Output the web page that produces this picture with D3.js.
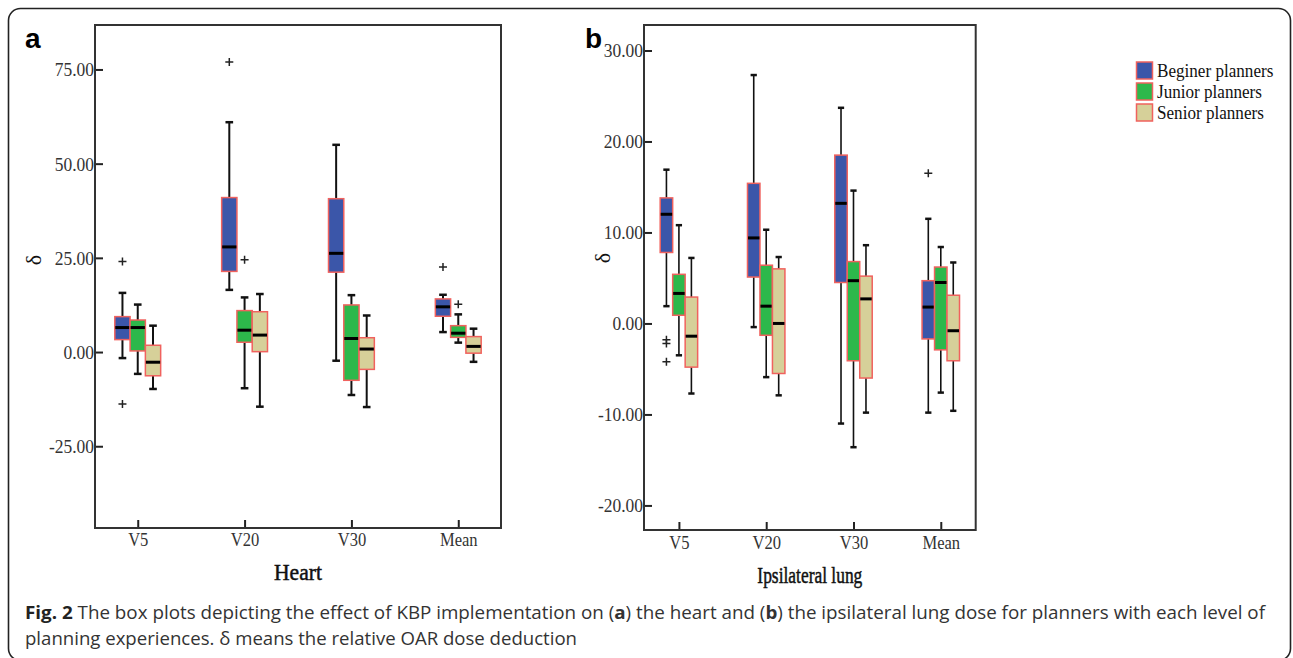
<!DOCTYPE html>
<html><head><meta charset="utf-8">
<script src="https://cdn.jsdelivr.net/npm/d3@7"></script>
<style>html,body{margin:0;padding:0;background:#fff;}svg{display:block;}</style>
</head><body>
<svg id="chart" width="1293" height="658"></svg>
<script>
// ---------- data ----------
const categories = ["V5", "V20", "V30", "Mean"];
const groupNames = ["Beginer planners", "Junior planners", "Senior planners"];
const groupColors = ["#3b56a9", "#2db84b", "#d6d099"];

const heartTicks = [-25, 0, 25, 50, 75];
const lungTicks = [-20, -10, 0, 10, 20, 30];

// five-number summaries per category: [lowWhisker, q1, median, q3, highWhisker]
const heartBeginer = [[-1.6, 3.3, 6.5, 9.4, 15.7], [16.5, 21.4, 27.9, 41.0, 61.0], [-2.3, 21.2, 26.2, 40.7, 55.0], [5.3, 9.5, 12.0, 14.1, 15.2]];
const heartJunior  = [[-5.8, 0.3, 6.5, 8.5, 12.6], [-9.6, 2.6, 5.8, 11.0, 14.5], [-11.4, -7.5, 3.6, 12.5, 15.1], [2.5, 3.9, 5.0, 7.0, 10.0]];
const heartSenior  = [[-9.8, -6.3, -2.7, 1.8, 7.0], [-14.5, 0.1, 4.5, 10.7, 15.4], [-14.6, -4.6, 0.8, 3.8, 9.7], [-2.6, -0.3, 1.5, 4.1, 6.2]];
// outliers: [groupIndex, category, value]
const heartOutliers = [[0, "V5", 24.0], [0, "V5", -13.8], [0, "V20", 77.0], [1, "V20", 24.5], [0, "Mean", 22.6], [1, "Mean", 12.7]];

const lungBeginer = [[1.9, 7.8, 12.0, 13.8, 16.9], [-0.4, 5.1, 9.4, 15.4, 27.3], [-11.0, 4.5, 13.2, 18.5, 23.7], [-9.8, -1.7, 1.8, 4.7, 11.5]];
const lungJunior  = [[-3.5, 0.9, 3.3, 5.4, 10.8], [-5.9, -1.3, 1.9, 6.4, 10.3], [-13.6, -4.1, 4.7, 6.8, 14.6], [-7.6, -2.9, 4.5, 6.2, 8.4]];
const lungSenior  = [[-7.7, -4.8, -1.4, 2.9, 7.2], [-7.9, -5.5, 0.0, 6.0, 7.3], [-9.8, -6.0, 2.7, 5.2, 8.6], [-9.6, -4.1, -0.8, 3.1, 6.7]];
const lungOutliers = [[0, "V5", -1.8], [0, "V5", -2.2], [0, "V5", -4.2], [0, "Mean", 16.5]];

const captionLine1 = ["Fig. 2", " The box plots depicting the effect of KBP implementation on (", "a", ") the heart and (", "b", ") the ipsilateral lung dose for planners with each level of"];
const captionLine2 = "planning experiences. δ means the relative OAR dose deduction";

// ---------- drawing ----------
const svg = d3.select("#chart");
svg.append("rect").attr("width", 1293).attr("height", 658).attr("fill", "#fff");
svg.append("rect").attr("x", 8.5).attr("y", 8.5).attr("width", 1282).attr("height", 652)
  .attr("rx", 12).attr("fill", "none").attr("stroke", "#222").attr("stroke-width", 1.6);

const serif = "'Liberation Serif','Times New Roman',serif";
const fmt = v => v.toFixed(2);
function condense(sel, k) {
  sel.each(function () {
    const len = this.getComputedTextLength();
    d3.select(this).attr("textLength", len * k).attr("lengthAdjust", "spacingAndGlyphs");
  });
}

function drawPanel(p) {
  const g = svg.append("g");
  const x = d3.scalePoint().domain(categories).range([p.left, p.right]).padding(0.4);
  const y = d3.scaleLinear().domain(p.domain).range([p.bottom, p.top]);
  const bw = x.step() * 0.143;
  const capW = bw * 0.5;
  const cx = (gi, cat) => x(cat) + (gi - 1) * bw;

  // y axis
  const ya = g.append("g").attr("transform", `translate(${p.left},0)`)
    .call(d3.axisLeft(y).tickValues(p.ticks).tickFormat(fmt).tickSizeInner(-8).tickSizeOuter(0).tickPadding(1));
  ya.select(".domain").remove();
  ya.selectAll("line").attr("stroke", "#222").attr("stroke-width", 2);
  ya.selectAll("text").attr("font-family", serif).attr("font-size", 18).attr("fill", "#333").attr("dy", "0.36em");
  condense(ya.selectAll("text"), 0.97);

  // x axis
  const xa = g.append("g").attr("transform", `translate(0,${p.bottom})`)
    .call(d3.axisBottom(x).tickSizeInner(-8).tickSizeOuter(0).tickPadding(p.xPad));
  xa.select(".domain").remove();
  xa.selectAll("line").attr("stroke", "#222").attr("stroke-width", 2);
  xa.selectAll("text").attr("font-family", serif).attr("font-size", 18).attr("fill", "#333");
  condense(xa.selectAll("text"), 0.92);

  // boxes
  p.series.forEach((arr, gi) => {
    arr.forEach((s, ci) => {
      const cat = categories[ci];
      const c = cx(gi, cat);
      const [lo, q1, md, q3, hi] = s;
      g.append("line").attr("x1", c).attr("x2", c).attr("y1", y(hi)).attr("y2", y(lo))
        .attr("stroke", "#111").attr("stroke-width", p.whiskerW);
      [lo, hi].forEach(v => g.append("line").attr("x1", c - capW / 2).attr("x2", c + capW / 2)
        .attr("y1", y(v)).attr("y2", y(v)).attr("stroke", "#111").attr("stroke-width", 2.5));
      g.append("rect").attr("x", c - bw / 2).attr("y", y(q3)).attr("width", bw).attr("height", y(q1) - y(q3))
        .attr("fill", groupColors[gi]).attr("stroke", "#f0625e").attr("stroke-width", 1.5);
      g.append("line").attr("x1", c - bw / 2 + 0.5).attr("x2", c + bw / 2 - 0.5).attr("y1", y(md)).attr("y2", y(md))
        .attr("stroke", "#000").attr("stroke-width", 3);
    });
  });

  // outliers
  p.outliers.forEach(([gi, cat, v]) => {
    const c = cx(gi, cat), yy = y(v), s = 4;
    g.append("path").attr("d", `M${c - s},${yy}H${c + s}M${c},${yy - s}V${yy + s}`)
      .attr("stroke", "#222").attr("stroke-width", 1.5).attr("fill", "none");
  });

  // plot frame
  g.append("rect").attr("x", p.left).attr("y", p.top).attr("width", p.right - p.left).attr("height", p.bottom - p.top)
    .attr("fill", "none").attr("stroke", "#333").attr("stroke-width", 2);

  // titles
  g.append("text").attr("x", (p.left + p.right) / 2).attr("y", p.titleY).attr("text-anchor", "middle")
    .attr("font-family", serif).attr("font-size", 23).attr("fill", "#111").attr("stroke", "#111").attr("stroke-width", 0.5)
    .attr("textLength", p.titleLen).attr("lengthAdjust", "spacingAndGlyphs").text(p.title);
  g.append("text").attr("transform", `translate(${p.deltaX},${p.deltaY}) rotate(-90)`).attr("text-anchor", "middle")
    .attr("dy", "0.35em").attr("font-family", serif).attr("font-size", 22).attr("fill", "#111").text("δ");
  g.append("text").attr("x", p.labelX).attr("y", 48).attr("font-family", "'Liberation Sans',Arial,sans-serif")
    .attr("font-weight", "bold").attr("font-size", 28).attr("fill", "#000").text(p.label);
}

drawPanel({
  left: 95, right: 501, top: 25, bottom: 528, domain: [-46.7, 86.8], ticks: heartTicks,
  series: [heartBeginer, heartJunior, heartSenior], outliers: heartOutliers, xPad: 5, whiskerW: 2,
  title: "Heart", titleY: 580, titleLen: 48, deltaX: 33, deltaY: 260, label: "a", labelX: 25
});
drawPanel({
  left: 644, right: 975.7, top: 25, bottom: 530, domain: [-22.7, 32.8], ticks: lungTicks,
  series: [lungBeginer, lungJunior, lungSenior], outliers: lungOutliers, xPad: 6, whiskerW: 1.6,
  title: "Ipsilateral lung", titleY: 583, titleLen: 105, deltaX: 602, deltaY: 258, label: "b", labelX: 585
});

// legend
const leg = svg.append("g");
groupNames.forEach((n, i) => {
  leg.append("rect").attr("x", 1136.5).attr("y", 62 + i * 21).attr("width", 16).attr("height", 17)
    .attr("fill", groupColors[i]).attr("stroke", "#f0625e").attr("stroke-width", 1.5);
  leg.append("text").attr("x", 1157).attr("y", 77 + i * 21).attr("font-family", serif).attr("font-size", 18)
    .attr("fill", "#111").attr("textLength", null).text(n);
});
condense(leg.selectAll("text"), 0.95);

// caption
const sans = "'Open Sans','Noto Sans',sans-serif";
const cap1 = svg.append("text").attr("x", 25).attr("y", 619).attr("font-family", sans).attr("font-size", 17.5)
  .attr("fill", "#333").attr("textLength", 1240).attr("lengthAdjust", "spacingAndGlyphs");
captionLine1.forEach((t, i) => {
  cap1.append("tspan").attr("font-weight", (i === 0 || t === "a" || t === "b") ? "bold" : "normal")
    .attr("fill", i === 0 ? "#222" : "#333").text(t);
});
svg.append("text").attr("x", 25).attr("y", 645).attr("font-family", sans).attr("font-size", 17.5)
  .attr("fill", "#333").attr("textLength", 552).attr("lengthAdjust", "spacingAndGlyphs").text(captionLine2);
</script>
</body></html>
